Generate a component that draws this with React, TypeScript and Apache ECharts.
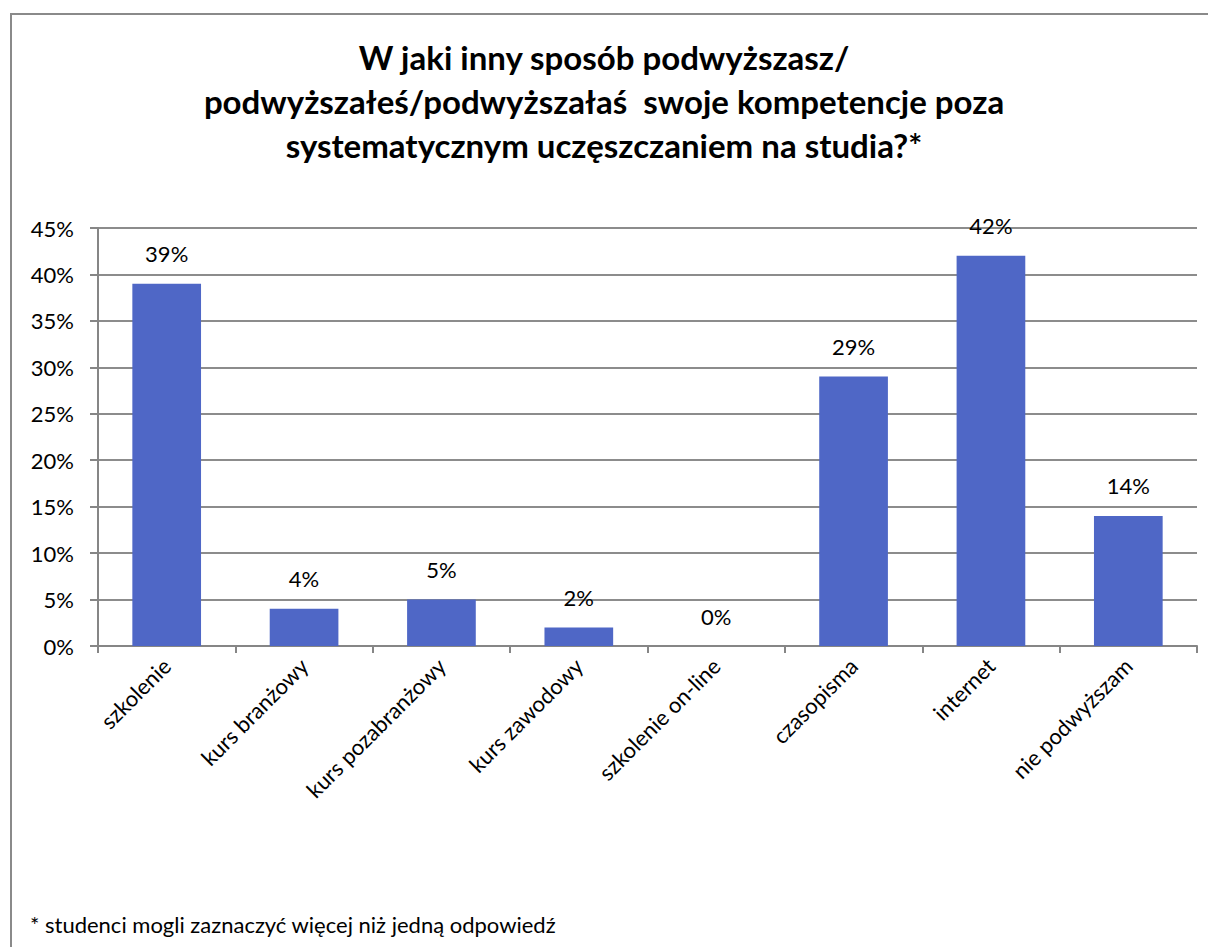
import React, { useEffect, useRef } from "react";
import * as echarts from "echarts";

const categories = [
  "szkolenie",
  "kurs branżowy",
  "kurs pozabranżowy",
  "kurs zawodowy",
  "szkolenie on-line",
  "czasopisma",
  "internet",
  "nie podwyższam",
];
const values = [39, 4, 5, 2, 0, 29, 42, 14];
const titleLines = [
  "W jaki inny sposób podwyższasz/",
  "podwyższałeś/podwyższałaś  swoje kompetencje poza",
  "systematycznym uczęszczaniem na studia?*",
];
const footnote = "* studenci mogli zaznaczyć więcej niż jedną odpowiedź";
const yMin = 0;
const yMax = 45;
const yInterval = 5;

const FONT = "Lato, 'Noto Sans', sans-serif";

export default function App() {
  const ref = useRef<HTMLDivElement>(null);
  useEffect(() => {
    if (!ref.current) return;
    const chart = echarts.init(ref.current, undefined, { renderer: "svg" });
    chart.setOption({
      animation: false,
      backgroundColor: "#ffffff",
      textStyle: { fontFamily: FONT },
      title: {
        text: titleLines.join("\n"),
        left: "center",
        top: 30,
        textStyle: {
          fontFamily: FONT,
          fontSize: 33,
          fontWeight: "bold",
          color: "#000",
          lineHeight: 44,
        },
      },
      graphic: [
        {
          type: "rect",
          silent: true,
          shape: { x: 11, y: 14, width: 1400, height: 1100 },
          style: { fill: "none", stroke: "#8a8a8a", lineWidth: 2 },
        },
        {
          type: "text",
          left: 30,
          top: 913,
          style: {
            text: footnote,
            fontFamily: FONT,
            fontSize: 22,
            fill: "#000",
          },
        },
      ],
      grid: { left: 98, right: 11, top: 228, bottom: 301, containLabel: false },
      xAxis: {
        type: "category",
        data: categories,
        axisLine: { show: true, lineStyle: { color: "#868686", width: 2 } },
        axisTick: { show: true, alignWithLabel: false, length: 7, lineStyle: { color: "#868686", width: 2 } },
        axisLabel: {
          rotate: 45,
          margin: 16,
          fontSize: 22,
          color: "#000",
          fontFamily: FONT,
          interval: 0,
        },
      },
      yAxis: {
        type: "value",
        min: yMin,
        max: yMax,
        interval: yInterval,
        axisLine: { show: true, lineStyle: { color: "#868686", width: 2 } },
        axisTick: { show: true, length: 8, lineStyle: { color: "#868686", width: 2 } },
        axisLabel: {
          formatter: "{value}%",
          fontSize: 22,
          color: "#000",
          margin: 24,
          fontFamily: FONT,
        },
        splitLine: { show: true, lineStyle: { color: "#8c8c8c", width: 2 } },
      },
      series: [
        {
          type: "bar",
          data: values,
          barWidth: "50%",
          itemStyle: { color: "#4F67C6", borderWidth: 0 },
          label: {
            show: true,
            position: "top",
            distance: 19,
            formatter: "{c}%",
            fontSize: 22,
            color: "#000",
            fontFamily: FONT,
          },
        },
      ],
    });
    return () => chart.dispose();
  }, []);
  return (
    <div
      ref={ref}
      style={{ position: "fixed", left: 0, top: 0, width: 1208, height: 947, background: "#fff" }}
    />
  );
}
